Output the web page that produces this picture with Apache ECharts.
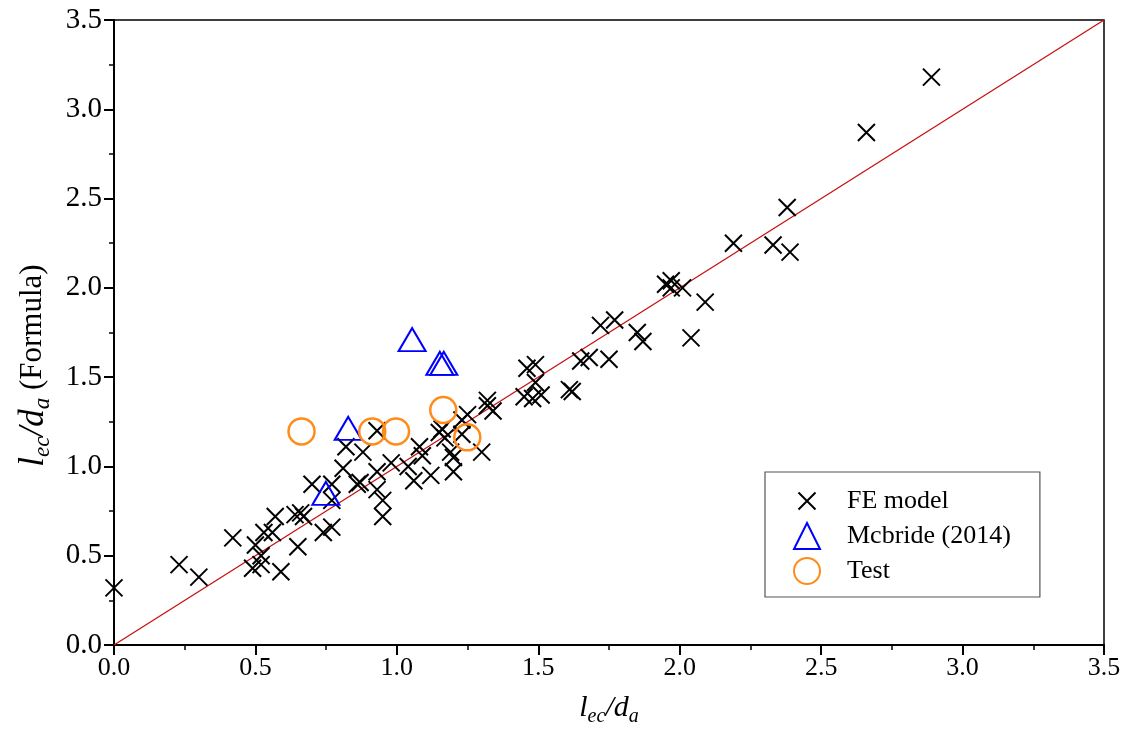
<!DOCTYPE html>
<html>
<head>
<meta charset="utf-8">
<script src="https://cdn.jsdelivr.net/npm/echarts@6/dist/echarts.min.js"></script>
<style>html,body{margin:0;padding:0;background:#fff}#c{width:1128px;height:740px}</style>
</head>
<body>
<div id="c"></div>
<script>
// ---- data ----
const feModel = [
  [0.00,0.32],[0.23,0.45],[0.30,0.38],[0.42,0.60],[0.49,0.43],[0.50,0.56],[0.52,0.50],[0.52,0.45],
  [0.53,0.63],[0.56,0.63],[0.57,0.72],[0.59,0.41],[0.65,0.55],[0.64,0.73],[0.66,0.74],[0.67,0.72],
  [0.70,0.90],[0.74,0.63],[0.77,0.66],[0.77,0.81],[0.77,0.90],[0.81,0.99],[0.82,1.11],[0.88,1.08],
  [0.86,0.90],[0.87,0.91],[0.93,1.20],[0.93,0.97],[0.93,0.87],[0.95,0.81],[0.95,0.72],[0.98,1.02],
  [1.04,1.00],[1.06,0.92],[1.08,1.11],[1.09,1.06],[1.12,0.95],[1.15,1.19],[1.17,1.16],[1.16,1.21],
  [1.19,1.08],[1.20,1.05],[1.20,0.97],[1.23,1.18],[1.23,1.26],[1.25,1.29],[1.32,1.37],[1.32,1.34],
  [1.34,1.31],[1.30,1.08],[1.46,1.55],[1.49,1.57],[1.45,1.39],[1.48,1.38],[1.51,1.40],[1.49,1.47],
  [1.61,1.43],[1.62,1.42],[1.65,1.59],[1.68,1.61],[1.75,1.60],[1.72,1.79],[1.77,1.82],[1.85,1.75],
  [1.87,1.70],[1.97,2.04],[1.97,2.00],[2.01,2.00],[1.95,2.02],[2.09,1.92],[2.04,1.72],[2.19,2.25],
  [2.33,2.24],[2.39,2.20],[2.38,2.45],[2.66,2.87],[2.89,3.18]
];
const mcbride2014 = [[1.054,1.71],[1.152,1.577],[1.166,1.577],[0.828,1.213],[0.749,0.849]];
const testData = [[0.663,1.196],[0.913,1.196],[0.997,1.196],[1.164,1.316],[1.249,1.163]];
const refLine = [[0,0],[3.5,3.5]];
const seriesNames = ['FE model','Mcbride (2014)','Test'];
const axisMin = 0, axisMax = 3.5, axisStep = 0.5;

const FONT = "'Liberation Serif','Times New Roman',serif";
const crossPath = 'path://M0,0L0,0M4.5,4.5L21.5,21.5M21.5,4.5L4.5,21.5M26,26L26,26';

const chart = echarts.init(document.getElementById('c'), null, {renderer:'canvas'});
chart.setOption({
  animation:false,
  backgroundColor:'#fff',
  grid:{left:114,right:24,top:20,bottom:95,show:true,borderColor:'#000',borderWidth:1.5,backgroundColor:'transparent'},
  xAxis:{
    type:'value',min:axisMin,max:axisMax,interval:axisStep,
    name:'{i|l}{s|ec}{i|/d}{s|a}',nameLocation:'middle',nameGap:44,
    nameTextStyle:{rich:{
      i:{fontFamily:FONT,fontStyle:'italic',fontSize:30,color:'#000'},
      s:{fontFamily:FONT,fontStyle:'italic',fontSize:20,color:'#000',padding:[18,0,0,0]}
    }},
    axisLine:{show:true,lineStyle:{color:'#000',width:2}},
    axisTick:{show:true,inside:false,length:10,lineStyle:{color:'#000',width:2}},
    minorTick:{show:true,splitNumber:2,length:5,lineStyle:{color:'#000',width:1.5}},
    splitLine:{show:false},
    axisLabel:{fontFamily:FONT,fontSize:26,color:'#000',margin:10,formatter:v=>v.toFixed(1)}
  },
  yAxis:{
    type:'value',min:axisMin,max:axisMax,interval:axisStep,
    name:'{i|l}{s|ec}{i|/d}{s|a}{n| (Formula)}',nameLocation:'middle',nameGap:56,nameRotate:90,
    nameTextStyle:{padding:[0,66,0,0],rich:{
      i:{fontFamily:FONT,fontStyle:'italic',fontSize:35,color:'#000'},
      s:{fontFamily:FONT,fontStyle:'italic',fontSize:23,color:'#000',padding:[20,0,0,0]},
      n:{fontFamily:FONT,fontSize:31,color:'#000'}
    }},
    axisLine:{show:true,lineStyle:{color:'#000',width:2}},
    axisTick:{show:true,inside:false,length:10,lineStyle:{color:'#000',width:2}},
    minorTick:{show:true,splitNumber:2,length:5,lineStyle:{color:'#000',width:1.5}},
    splitLine:{show:false},
    axisLabel:{fontFamily:FONT,fontSize:29,color:'#000',margin:12,formatter:v=>v.toFixed(1)}
  },
  legend:{
    data:seriesNames,orient:'vertical',left:765,top:472,
    padding:[15,29,12,28],
    itemWidth:26,itemHeight:26,itemGap:7,
    borderColor:'#555',borderWidth:1.2,backgroundColor:'#fff',
    textStyle:{fontFamily:FONT,fontSize:26,color:'#000',padding:[0,0,0,22]}
  },
  series:[
    {type:'line',data:refLine,showSymbol:false,symbol:'none',silent:true,z:1,
     lineStyle:{color:'#C81010',width:1.3}},
    {name:seriesNames[0],type:'scatter',data:feModel,symbol:crossPath,symbolSize:26,z:3,
     itemStyle:{color:'transparent',borderColor:'#000',borderWidth:2,opacity:1}},
    {name:seriesNames[1],type:'scatter',data:mcbride2014,symbol:'triangle',symbolSize:[27,23],z:4,
     itemStyle:{color:'transparent',borderColor:'#0000FF',borderWidth:2,opacity:1}},
    {name:seriesNames[2],type:'scatter',data:testData,symbol:'circle',symbolSize:26,z:5,
     itemStyle:{color:'transparent',borderColor:'#FF8C1A',borderWidth:2.5,opacity:1}}
  ]
});
</script>
</body>
</html>
